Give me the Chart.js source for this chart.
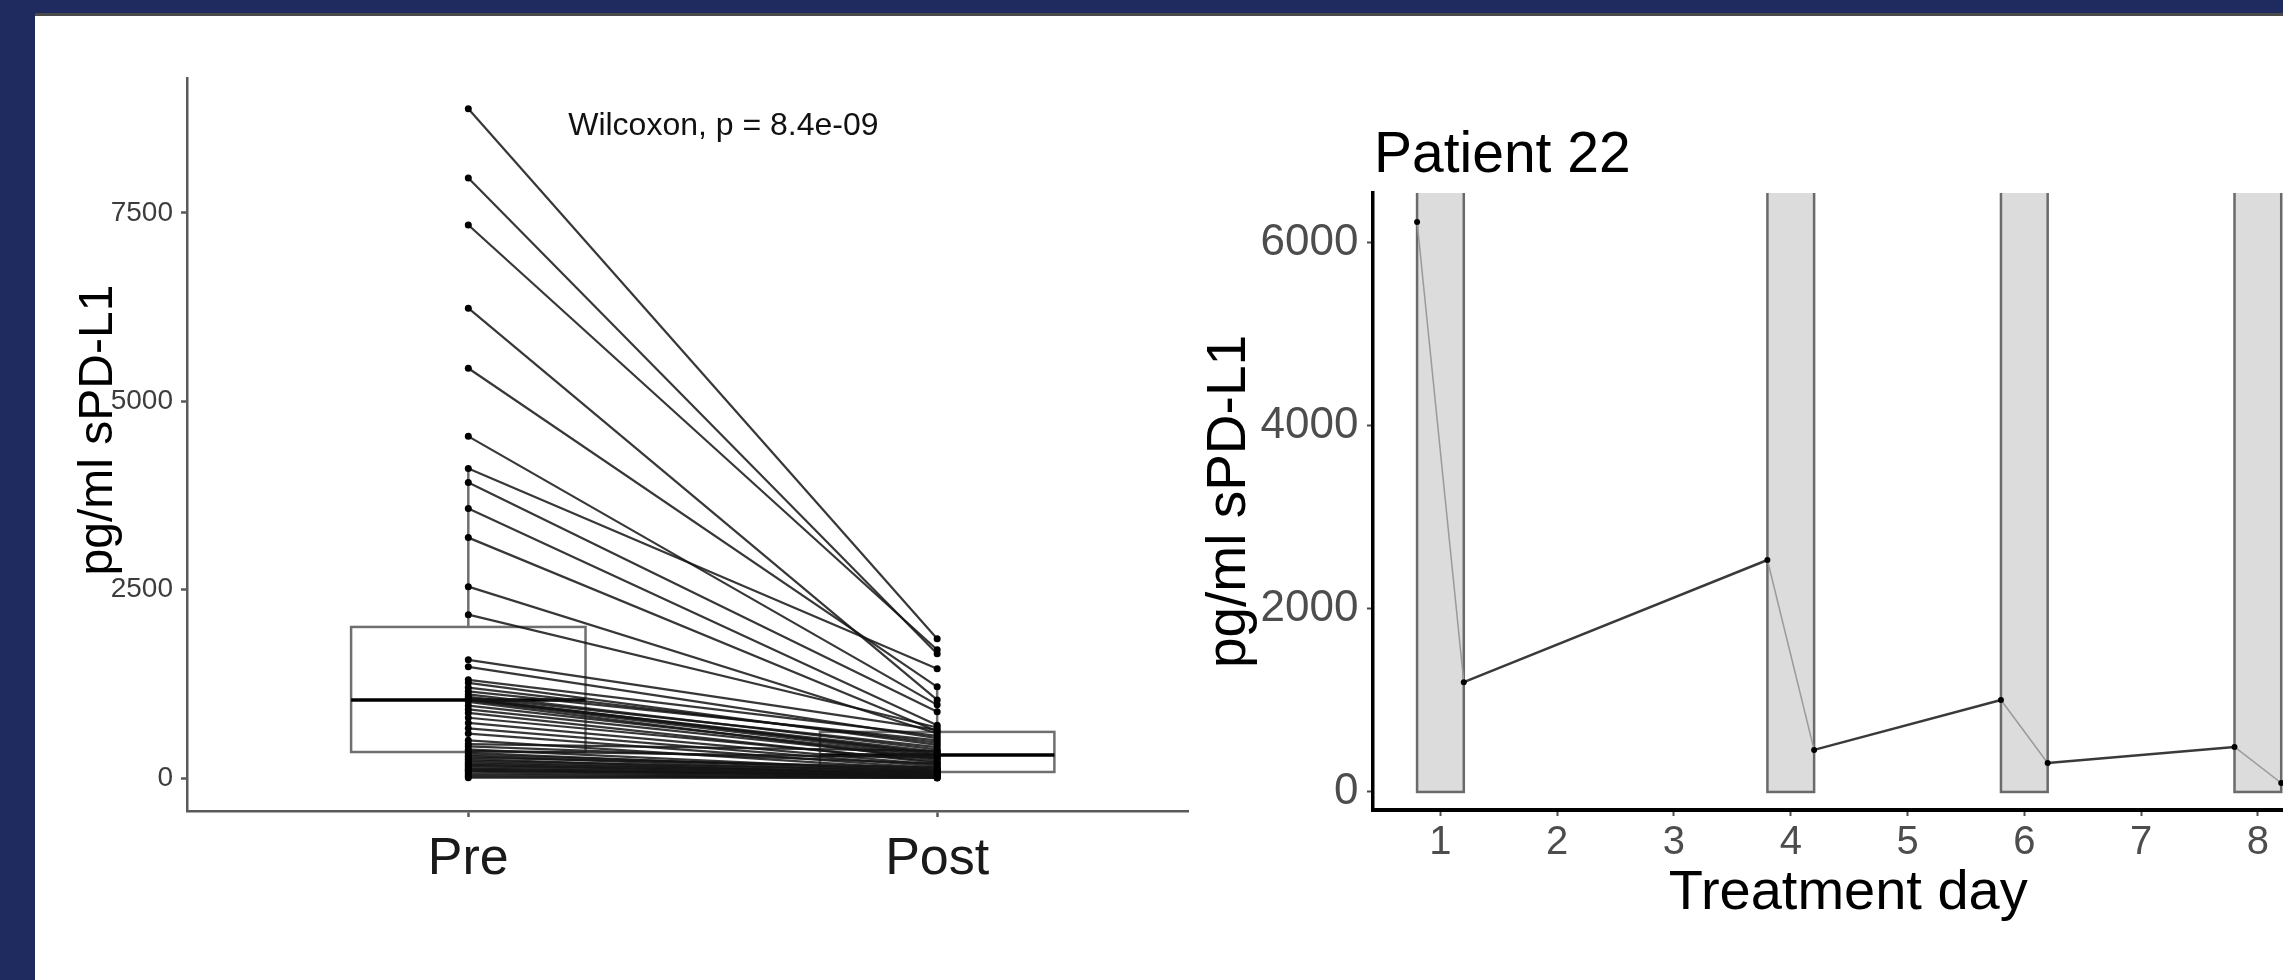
<!DOCTYPE html>
<html>
<head>
<meta charset="utf-8">
<script src="https://cdn.jsdelivr.net/npm/chart.js@4.4.1/dist/chart.umd.min.js"></script>
<style>
  html, body { margin: 0; padding: 0; width: 2283px; height: 980px; overflow: hidden; background: #1f2b5e; }
  #panel { position: absolute; left: 35px; top: 13px; width: 2248px; height: 967px; background: #fff; border-top: 3px solid #4a4a4a; }
  canvas { position: absolute; top: 0; }
  #pairChart { left: 0; }
  #patientChart { left: 1150px; }
</style>
</head>
<body>
<div id="panel"></div>
<canvas id="pairChart" width="1240" height="980"></canvas>
<canvas id="patientChart" width="1300" height="980"></canvas>
<script>
const FONT = '"Liberation Sans", Arial, sans-serif';

// paired pre/post sPD-L1 (pg/ml), one entry per patient
const pairGroups = ['Pre', 'Post'];
const preValues = [8883, 7965, 7340, 6237, 5439, 4535, 4109, 3923, 3577, 3191,
  2540, 2168, 1569, 1476, 1303, 1263, 1200, 1150, 1110, 1077,
  1060, 1045, 1040, 1030, 1011, 960, 910, 864, 800, 731,
  660, 590, 500, 450, 420, 380, 360, 335, 310, 290,
  270, 250, 230, 210, 190, 175, 160, 140, 120, 110,
  95, 85, 60, 40, 20, 5];
const postValues = [1848, 1649, 1702, 1037, 1210, 971, 1449, 878, 700, 620,
  590, 670, 640, 530, 560, 440, 470, 500, 380, 410,
  315, 350, 330, 298, 240, 280, 260, 200, 220, 175,
  150, 125, 105, 360, 190, 88, 270, 75, 110, 65,
  140, 45, 95, 55, 70, 38, 60, 30, 50, 24,
  35, 18, 12, 8, 4, 0];
// box stats: lower whisker, Q1, median, Q3, upper whisker
const preBox = [0, 345, 1036, 2005, 4109];
const postBox = [0, 80, 306, 612, 1210];
const pairYTicks = [0, 2500, 5000, 7500];
const pValueLabel = 'Wilcoxon, p = 8.4e-09';
const yAxisLabel = 'pg/ml sPD-L1';

// patient 22 time course
const sampleDays = [0.8, 1.2, 3.8, 4.2, 5.8, 6.2, 7.8, 8.2];
const patientValues = [6230, 1200, 2535, 460, 1005, 317, 492, 98];
const treatmentDays = [1, 4, 6, 8];
const patientYTicks = [0, 2000, 4000, 6000];
const dayTicks = [1, 2, 3, 4, 5, 6, 7, 8];

// boxplots behind the paired lines
const boxPlugin = {
  id: 'boxes',
  beforeDatasetsDraw(chart) {
    const {ctx, scales: {x, y}} = chart;
    [preBox, postBox].forEach((b, i) => {
      const cx = x.getPixelForValue(i + 1);
      const x0 = x.getPixelForValue(i + 1 - 0.25);
      const x1 = x.getPixelForValue(i + 1 + 0.25);
      const [lo, q1, med, q3, hi] = b.map(v => y.getPixelForValue(v));
      ctx.save();
      ctx.strokeStyle = '#6f6f6f';
      ctx.lineWidth = 2.5;
      ctx.beginPath();
      ctx.moveTo(cx, q3); ctx.lineTo(cx, hi);
      ctx.moveTo(cx, q1); ctx.lineTo(cx, lo);
      ctx.stroke();
      ctx.strokeRect(x0, q3, x1 - x0, q1 - q3);
      ctx.strokeStyle = '#000';
      ctx.lineWidth = 3.5;
      ctx.beginPath();
      ctx.moveTo(x0, med); ctx.lineTo(x1, med);
      ctx.stroke();
      ctx.restore();
    });
  }
};

// p-value note and the y axis title (ggplot centres it a bit higher)
const pLabelPlugin = {
  id: 'pLabel',
  afterDatasetsDraw(chart) {
    const {ctx, scales: {x, y}} = chart;
    ctx.save();
    ctx.font = '32px ' + FONT;
    ctx.fillStyle = '#111';
    ctx.textAlign = 'left';
    ctx.textBaseline = 'alphabetic';
    ctx.fillText(pValueLabel, x.getPixelForValue(1.213), y.getPixelForValue(8530));
    ctx.translate(99, 430);
    ctx.rotate(-Math.PI / 2);
    ctx.font = '48px ' + FONT;
    ctx.fillStyle = '#000';
    ctx.textAlign = 'center';
    ctx.textBaseline = 'middle';
    ctx.fillText(yAxisLabel, 0, 0);
    ctx.restore();
  }
};

new Chart(document.getElementById('pairChart'), {
  type: 'scatter',
  data: {
    datasets: preValues.map((v, i) => ({
      data: [{x: 1, y: v}, {x: 2, y: postValues[i]}],
      showLine: true,
      borderColor: 'rgba(20,20,20,0.85)',
      borderWidth: 2.2,
      pointRadius: 3.5,
      pointBorderWidth: 0,
      pointBackgroundColor: '#000'
    }))
  },
  options: {
    responsive: false,
    animation: false,
    layout: {padding: {top: 78, right: 52, left: 0, bottom: 0}},
    plugins: {legend: {display: false}, tooltip: {enabled: false}},
    scales: {
      x: {
        type: 'linear', min: 0.4, max: 2.535,
        afterBuildTicks: s => { s.ticks = pairGroups.map((g, i) => ({value: i + 1})); },
        afterFit: s => { s.height = 169; },
        ticks: {
          callback: v => pairGroups[v - 1],
          font: {family: FONT, size: 52}, color: '#1a1a1a',
          padding: 11, maxRotation: 0, autoSkip: false
        },
        grid: {drawOnChartArea: false, tickLength: 6, tickColor: '#5a5a5a', tickWidth: 2.5},
        border: {color: '#5a5a5a', width: 2.5}
      },
      y: {
        min: -438, max: 9292,
        afterBuildTicks: s => { s.ticks = pairYTicks.map(v => ({value: v})); },
        afterFit: s => { s.width = 187; },
        ticks: {callback: v => String(v), font: {family: FONT, size: 28}, color: '#3d3d3d', padding: 8},
        grid: {drawOnChartArea: false, tickLength: 6, tickColor: '#5a5a5a', tickWidth: 2.5},
        border: {color: '#5a5a5a', width: 2.5}
      }
    }
  },
  plugins: [boxPlugin, pLabelPlugin]
});

// grey treatment bands from 0 up past the panel top
const bandPlugin = {
  id: 'bands',
  beforeDatasetsDraw(chart) {
    const {ctx, chartArea: a, scales: {x, y}} = chart;
    ctx.save();
    ctx.beginPath();
    ctx.rect(a.left, a.top, a.right - a.left, a.bottom - a.top);
    ctx.clip();
    treatmentDays.forEach(d => {
      const x0 = x.getPixelForValue(d - 0.2);
      const x1 = x.getPixelForValue(d + 0.2);
      const y0 = y.getPixelForValue(0);
      const top = a.top - 10;
      ctx.fillStyle = '#dcdcdc';
      ctx.fillRect(x0, top, x1 - x0, y0 - top);
      ctx.strokeStyle = '#6a6a6a';
      ctx.lineWidth = 2.5;
      ctx.strokeRect(x0, top, x1 - x0, y0 - top);
    });
    ctx.restore();
  }
};

const titlePlugin = {
  id: 'leftTitle',
  afterDraw(chart) {
    const {ctx, chartArea} = chart;
    ctx.save();
    ctx.font = '57px ' + FONT;
    ctx.fillStyle = '#000';
    ctx.textAlign = 'left';
    ctx.textBaseline = 'alphabetic';
    ctx.fillText('Patient 22', chartArea.left + 1, 172);
    ctx.restore();
  }
};

new Chart(document.getElementById('patientChart'), {
  type: 'scatter',
  data: {
    datasets: [{
      data: sampleDays.map((d, i) => ({x: d, y: patientValues[i]})),
      showLine: true,
      borderColor: '#3a3a3a',
      borderWidth: 2.5,
      segment: {
        borderColor: c => c.p0DataIndex % 2 === 0 ? '#9a9a9a' : '#3a3a3a',
        borderWidth: c => c.p0DataIndex % 2 === 0 ? 1.5 : 2.5
      },
      pointRadius: 3,
      pointBorderWidth: 0,
      pointBackgroundColor: '#000'
    }]
  },
  options: {
    responsive: false,
    animation: false,
    layout: {padding: {top: 193, right: 126.5, left: 0, bottom: 0}},
    plugins: {legend: {display: false}, tooltip: {enabled: false}},
    scales: {
      x: {
        type: 'linear', min: 0.4226, max: 8.562,
        afterBuildTicks: s => { s.ticks = dayTicks.map(v => ({value: v})); },
        afterFit: s => { s.height = 170; },
        ticks: {font: {family: FONT, size: 40}, color: '#4d4d4d', padding: 3, maxRotation: 0, autoSkip: false},
        grid: {drawOnChartArea: false, tickLength: 6, tickColor: '#4d4d4d', tickWidth: 2},
        border: {color: '#000', width: 4},
        title: {
          display: true, text: 'Treatment day', color: '#000',
          font: {family: FONT, size: 56}, padding: {top: 0, bottom: 53}
        }
      },
      y: {
        min: -197, max: 6546,
        afterBuildTicks: s => { s.ticks = patientYTicks.map(v => ({value: v})); },
        afterFit: s => { s.width = 223; },
        ticks: {callback: v => String(v), font: {family: FONT, size: 44}, color: '#4d4d4d', padding: 8.5},
        grid: {drawOnChartArea: false, tickLength: 6, tickColor: '#4d4d4d', tickWidth: 2},
        border: {color: '#000', width: 3.5},
        title: {
          display: true, text: yAxisLabel, color: '#000',
          font: {family: FONT, size: 55}, padding: {top: 47, bottom: 0}
        }
      }
    }
  },
  plugins: [bandPlugin, titlePlugin]
});
</script>
</body>
</html>
